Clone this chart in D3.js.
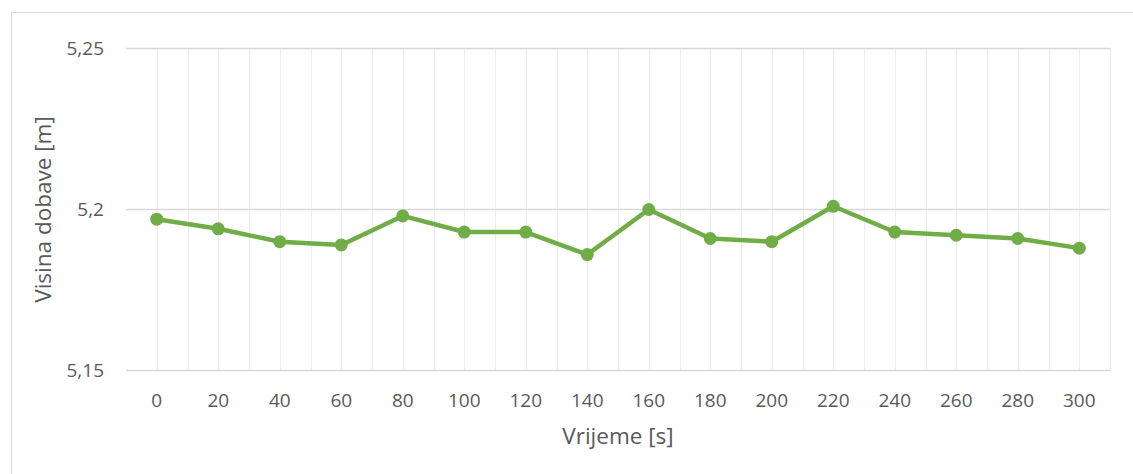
<!DOCTYPE html>
<html>
<head>
<meta charset="utf-8">
<script src="https://cdn.jsdelivr.net/npm/d3@7"></script>
<style>
  html, body { margin: 0; padding: 0; background: #fff; }
  svg { display: block; font-family: "Open Sans", "Noto Sans", sans-serif; }
</style>
</head>
<body>
<svg id="chart" width="1133" height="474"></svg>
<script>
// Time samples [s] and measured pump head [m]
const times = [0, 20, 40, 60, 80, 100, 120, 140, 160, 180, 200, 220, 240, 260, 280, 300];
const heights = [5.197, 5.194, 5.190, 5.189, 5.198, 5.193, 5.193, 5.186, 5.200, 5.191, 5.190, 5.201, 5.193, 5.192, 5.191, 5.188];
const yTicks = [5.15, 5.2, 5.25];
const xTitle = "Vrijeme [s]";
const yTitle = "Visina dobave [m]";

const svg = d3.select("#chart");
const W = 1133, H = 474;
const plot = { left: 126, right: 1110, top: 48.5, bottom: 370.5 };
const tickFont = "19px";
const titleFont = "22.5px";

// Outer chart frame
svg.append("rect")
  .attr("x", 11.5).attr("y", 12.5)
  .attr("width", W).attr("height", H)
  .attr("fill", "none").attr("stroke", "#d9d9d9").attr("stroke-width", 1);

const x = d3.scaleBand().domain(times).range([plot.left, plot.right]).padding(0);
const y = d3.scaleLinear().domain([5.15, 5.25]).range([plot.bottom, plot.top]);
const fmt = v => d3.format("~g")(v).replace(".", ",");

// Vertical gridlines at band edges and band centres
const vLines = [];
times.forEach(t => { vLines.push(x(t)); vLines.push(x(t) + x.bandwidth() / 2); });
vLines.push(plot.right);
svg.append("g").selectAll("line").data(vLines.filter(v => v > plot.left + 1)).join("line")
  .attr("x1", d => Math.round(d) + 0.5).attr("x2", d => Math.round(d) + 0.5)
  .attr("y1", plot.top).attr("y2", plot.bottom)
  .attr("stroke", "#ededed").attr("stroke-width", 1);

// Horizontal gridlines
svg.append("g").selectAll("line").data(yTicks).join("line")
  .attr("x1", plot.left).attr("x2", plot.right)
  .attr("y1", d => y(d)).attr("y2", d => y(d))
  .attr("stroke", "#d9d9d9").attr("stroke-width", 1.3);

// Y axis labels
const yAxis = d3.axisLeft(y).tickValues(yTicks).tickFormat(fmt).tickSize(0).tickPadding(22);
const gy = svg.append("g").attr("transform", `translate(${plot.left},0)`).call(yAxis);
gy.select(".domain").remove();
gy.selectAll("text").attr("fill", "#595959").style("font-size", tickFont)
  .style("font-family", "'Open Sans', sans-serif");

// X axis labels
const xAxis = d3.axisBottom(x).tickSize(0).tickPadding(23);
const gx = svg.append("g").attr("transform", `translate(0,${plot.bottom})`).call(xAxis);
gx.select(".domain").remove();
gx.selectAll("text").attr("fill", "#595959").style("font-size", tickFont)
  .style("font-family", "'Open Sans', sans-serif");

// Axis titles
svg.append("text")
  .attr("x", (plot.left + plot.right) / 2).attr("y", 444)
  .attr("text-anchor", "middle").attr("fill", "#595959")
  .style("font-size", titleFont).text(xTitle);
svg.append("text")
  .attr("transform", `translate(51,${(plot.top + plot.bottom) / 2}) rotate(-90)`)
  .attr("text-anchor", "middle").attr("fill", "#595959")
  .style("font-size", titleFont).text(yTitle);

// Data line and markers
const cx = t => x(t) + x.bandwidth() / 2;
const line = d3.line().x((d, i) => cx(times[i])).y(d => y(d));
svg.append("path").datum(heights)
  .attr("d", line).attr("fill", "none")
  .attr("stroke", "#70ad47").attr("stroke-width", 4.5)
  .attr("stroke-linejoin", "round");
svg.append("g").selectAll("circle").data(heights).join("circle")
  .attr("cx", (d, i) => cx(times[i])).attr("cy", d => y(d))
  .attr("r", 6.5).attr("fill", "#70ad47");
</script>
</body>
</html>
